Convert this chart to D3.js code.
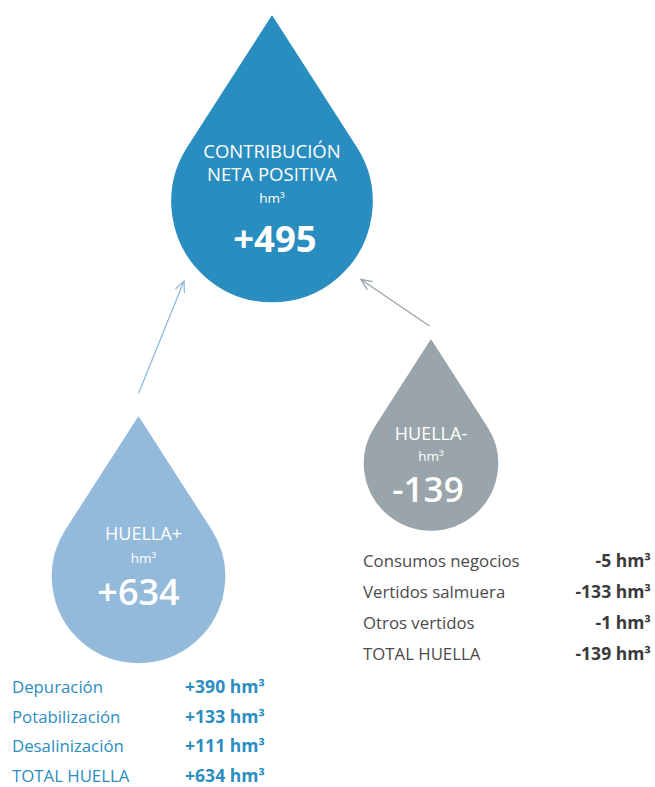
<!DOCTYPE html>
<html lang="es">
	<head>
		<meta charset="utf-8">
		<title>Huella hídrica</title>
		<script src="https://d3js.org/d3.v7.min.js"></script>
		<style type="text/css">
			body {
				margin: 0;
				background-color: #ffffff;
				font-family: "Open Sans", "Noto Sans", Arial, sans-serif;
			}
		</style>
	</head>
	<body>
		<script type="text/javascript">

			// Drops: title lines, unit, value
			var dropNames = ["net", "plus", "minus"];
			var dropTitles = [["CONTRIBUCIÓN", "NETA POSITIVA"], ["HUELLA+"], ["HUELLA-"]];
			var dropValues = ["+495", "+634", "-139"];
			var dropUnit = "hm³";

			// Footprint+ table
			var plusLabels = ["Depuración", "Potabilización", "Desalinización", "TOTAL HUELLA"];
			var plusValues = ["+390", "+133", "+111", "+634"];

			// Footprint- table
			var minusLabels = ["Consumos negocios", "Vertidos salmuera", "Otros vertidos", "TOTAL HUELLA"];
			var minusValues = ["-5", "-133", "-1", "-139"];

			//Width and height
			var w = 655;
			var h = 787;

			var svg = d3.select("body")
				.append("svg")
				.attr("width", w)
				.attr("height", h);

			// layout of each drop (centre of the round part, radius, colour)
			var layout = {
				net:   {cx: 272, cy: 201.5, r: 100, fill: "#298dbf", titleY: 158, lineH: 22.5, unitY: 203, valueY: 252, titleSize: 18.5, valueSize: 36.5, weight: 700, dx: 0, vdx: 3},
				plus:  {cx: 138.5, cy: 576.5, r: 86, fill: "#94badb", titleY: 540, lineH: 22, unitY: 562.5, valueY: 605, titleSize: 18, valueSize: 36, weight: 600, dx: 5, vdx: 0},
				minus: {cx: 431, cy: 463.5, r: 66.5, fill: "#9aa5ab", titleY: 440, lineH: 22, unitY: 460.5, valueY: 502, titleSize: 18, valueSize: 35, weight: 600, dx: 0, vdx: -3}
			};

			// path of a drop: tip above the circle, straight sides tangent to it
			function dropPath(c) {
				var d = 1.85 * c.r;
				var th = Math.acos(c.r / d);
				var p = d3.path();
				p.moveTo(c.cx, c.cy - d);
				p.lineTo(c.cx + c.r * Math.sin(th), c.cy - c.r * Math.cos(th));
				p.arc(c.cx, c.cy, c.r, -Math.PI / 2 + th, 3 * Math.PI / 2 - th, false);
				p.closePath();
				return p.toString();
			}

			// Arrows from the small drops to the big one
			var arrowColor = ["#94badb", "#9aa5ab"];
			var arrows = [
				{x1: 138.5, y1: 393.5, x2: 184, y2: 281, c: arrowColor[0]},
				{x1: 429.5, y1: 326, x2: 361, y2: 279.5, c: arrowColor[1]}
			];

			var ag = svg.append("g").attr("class", "arrows");
			arrows.forEach(function(a) {
				var ang = Math.atan2(a.y1 - a.y2, a.x1 - a.x2);
				var len = 12, spread = 0.42;
				ag.append("line")
					.attr("x1", a.x1).attr("y1", a.y1)
					.attr("x2", a.x2).attr("y2", a.y2)
					.attr("stroke", a.c)
					.attr("stroke-width", 1.3);
				ag.append("path")
					.attr("d", "M" + (a.x2 + len * Math.cos(ang - spread)) + "," + (a.y2 + len * Math.sin(ang - spread)) +
						"L" + a.x2 + "," + a.y2 +
						"L" + (a.x2 + len * Math.cos(ang + spread)) + "," + (a.y2 + len * Math.sin(ang + spread)))
					.attr("fill", "none")
					.attr("stroke", a.c)
					.attr("stroke-width", 1.3);
			});

			// Drops
			var drops = svg.selectAll("g.drop")
				.data(dropNames)
				.enter()
				.append("g")
				.attr("class", "drop");

			drops.append("path")
				.attr("d", function(d) { return dropPath(layout[d]); })
				.attr("fill", function(d) { return layout[d].fill; })
				.attr("stroke", function(d) { return layout[d].fill; })
				.attr("stroke-width", 1.5)
				.attr("stroke-linejoin", "round");

			drops.each(function(d, i) {
				var c = layout[d];
				var g = d3.select(this);
				dropTitles[i].forEach(function(t, j) {
					g.append("text")
						.attr("x", c.cx + c.dx)
						.attr("y", c.titleY + j * c.lineH)
						.attr("text-anchor", "middle")
						.attr("fill", "#fff")
						.attr("font-size", c.titleSize + "px")
						.text(t);
				});
				g.append("text")
					.attr("x", c.cx + c.dx)
					.attr("y", c.unitY)
					.attr("text-anchor", "middle")
					.attr("fill", "#fff")
					.attr("font-size", "13.5px")
					.text(dropUnit);
				g.append("text")
					.attr("x", c.cx + c.vdx)
					.attr("y", c.valueY)
					.attr("text-anchor", "middle")
					.attr("fill", "#fff")
					.attr("font-weight", c.weight)
					.attr("font-size", c.valueSize + "px")
					.text(dropValues[i]);
			});

			// Tables
			function table(labels, values, x0, x1, yRange, labelColor, valueColor) {
				var y = d3.scalePoint()
					.domain(labels)
					.range(yRange);
				var g = svg.append("g").attr("class", "table");
				g.selectAll("text.label")
					.data(labels)
					.enter()
					.append("text")
					.attr("class", "label")
					.attr("x", x0)
					.attr("y", function(d) { return y(d); })
					.attr("fill", labelColor)
					.attr("font-size", "16.8px")
					.text(function(d) { return d; });
				g.selectAll("text.value")
					.data(values)
					.enter()
					.append("text")
					.attr("class", "value")
					.attr("x", x1)
					.attr("y", function(d, i) { return y(labels[i]); })
					.attr("text-anchor", "end")
					.attr("fill", valueColor)
					.attr("font-size", "17.5px")
					.attr("font-weight", 700)
					.text(function(d) { return d + " " + dropUnit; });
			}

			table(plusLabels, plusValues, 12, 265, [693, 782], "#2b8dc0", "#2b8dc0");
			table(minusLabels, minusValues, 363, 651, [567, 660], "#4a4a4a", "#3a3a3a");

		</script>
	</body>
</html>
